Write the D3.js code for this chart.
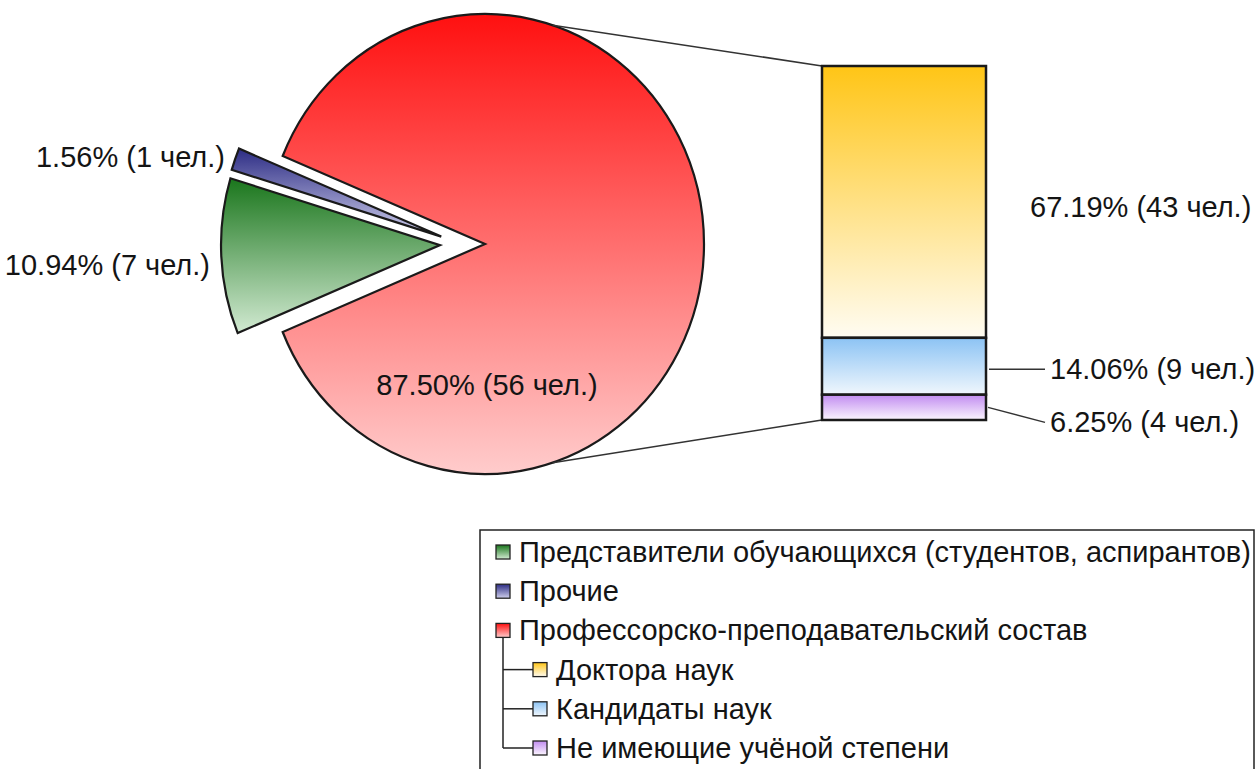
<!DOCTYPE html>
<html><head><meta charset="utf-8">
<script src="https://cdn.jsdelivr.net/npm/d3@7"></script>
<style>
body{margin:0;background:#fff;overflow:hidden}
text{font-family:"Liberation Sans",Arial,sans-serif;fill:#141414}
</style>
</head><body>
<svg id="c" width="1256" height="769"></svg>
<script>
// ---- data ----
const pieCategories = ["Профессорско-преподавательский состав", "Представители обучающихся (студентов, аспирантов)", "Прочие"];
const pieValues = [56, 7, 1];
const barCategories = ["Доктора наук", "Кандидаты наук", "Не имеющие учёной степени"];
const barValues = [43, 9, 4];
const unitLabel = "чел.";
const legendOrder = ["Представители обучающихся (студентов, аспирантов)", "Прочие", "Профессорско-преподавательский состав", "Доктора наук", "Кандидаты наук", "Не имеющие учёной степени"];

// ---- styles ----
const pieGrad = [["#ff1010", "#ffcccc"], ["#1a761c", "#d2ead2"], ["#2c2c84", "#cfcfec"]];
const barGrad = [["#ffc516", "#fffcf2"], ["#8cc3f4", "#f0f7fd"], ["#c18cf0", "#fbf5fe"]];

const svg = d3.select("#c");
const defs = svg.append("defs");
function grad(id, c, user, y1, y2) {
  const g = defs.append("linearGradient").attr("id", id)
    .attr("x1", 0).attr("x2", 0);
  if (user) g.attr("gradientUnits", "userSpaceOnUse").attr("y1", y1).attr("y2", y2);
  else g.attr("y1", 0).attr("y2", 1);
  g.append("stop").attr("offset", 0).attr("stop-color", c[0]);
  g.append("stop").attr("offset", 1).attr("stop-color", c[1]);
}
const fmt = d3.format(".2f");
const total = d3.sum(pieValues);
const lab = v => `${fmt(v / total * 100)}% (${v} ${unitLabel})`;

// ---- pie ----
const cx = 485, cy = 244, R = 230, sx = 219 / 230;
const a0 = -67.5 * Math.PI / 180;
const pie = d3.pie().sort(null).value(d => d).startAngle(a0).endAngle(a0 + 2 * Math.PI);
const arcs = pie(pieValues);
const arc = d3.arc().innerRadius(0).outerRadius(R);
grad("pg0", pieGrad[0], true, -R, R);
pieGrad.forEach((c, i) => grad("lg" + i, c, false));
barGrad.forEach((c, i) => grad("bg" + i, c, false));

function offset(d, i) {
  if (i === 0) return [0, 0];
  const m = (d.startAngle + d.endAngle) / 2, g = 1.5 * Math.PI;
  return [23 * Math.sin(g) + 22 * Math.sin(m), -23 * Math.cos(g) - 22 * Math.cos(m)];
}
svg.append("g").selectAll("path").data(arcs).join("path")
  .attr("transform", (d, i) => { const o = offset(d, i); return `translate(${cx + o[0]},${cy + o[1]}) scale(${sx},1)`; })
  .attr("d", arc)
  .attr("fill", (d, i) => i === 0 ? "url(#pg0)" : `url(#lg${i})`)
  .attr("stroke", "#1a1a1a").attr("stroke-width", 2.2)
  .attr("stroke-linejoin", "miter")
  .attr("vector-effect", "non-scaling-stroke");

// ---- bar ----
const bx0 = 822, bx1 = 986;
const y = d3.scaleLinear().domain([0, d3.sum(barValues)]).range([420, 66]);
const stackBottom = [];
let acc = 0;
for (let i = barValues.length - 1; i >= 0; i--) { stackBottom[i] = acc; acc += barValues[i]; }
const bars = barValues.map((v, i) => ({ v, i, y0: y(stackBottom[i] + v), y1: y(stackBottom[i]) }));

// connector lines
const tU = 18 * Math.PI / 180, tL = 162 * Math.PI / 180;
const pt = t => [cx + R * sx * Math.sin(t), cy - R * Math.cos(t)];
svg.append("line").attr("x1", pt(tU)[0]).attr("y1", pt(tU)[1]).attr("x2", bx0).attr("y2", y.range()[1])
  .attr("stroke", "#333").attr("stroke-width", 1.6);
svg.append("line").attr("x1", pt(tL)[0]).attr("y1", pt(tL)[1]).attr("x2", bx0).attr("y2", y.range()[0])
  .attr("stroke", "#333").attr("stroke-width", 1.6);

svg.append("g").selectAll("rect").data(bars).join("rect")
  .attr("x", bx0).attr("width", bx1 - bx0)
  .attr("y", d => d.y0).attr("height", d => d.y1 - d.y0)
  .attr("fill", d => `url(#bg${d.i})`)
  .attr("stroke", "#1a1a1a").attr("stroke-width", 2.5);

// ---- labels ----
const fs = 29;
function txt(x, yy, s, anchor) {
  return svg.append("text").attr("x", x).attr("y", yy).attr("dominant-baseline", "central")
    .attr("text-anchor", anchor).attr("font-size", fs).text(s);
}
txt(cx + 2, cy + 141, lab(pieValues[0]), "middle");
txt(210, cy + 21, lab(pieValues[1]), "end");
txt(225, cy - 87, lab(pieValues[2]), "end");

const barLab = v => `${fmt(v / total * 100)}% (${v} ${unitLabel})`;
txt(bx1 + 44, (bars[0].y0 + bars[0].y1) / 2 + 5, barLab(barValues[0]), "start");
const m1 = (bars[1].y0 + bars[1].y1) / 2 + 3;
svg.append("line").attr("x1", bx1 + 3).attr("y1", m1).attr("x2", bx1 + 59).attr("y2", m1).attr("stroke", "#333").attr("stroke-width", 1.4);
txt(bx1 + 64, m1, barLab(barValues[1]), "start");
const m2 = (bars[2].y0 + bars[2].y1) / 2;
svg.append("line").attr("x1", bx1 + 2).attr("y1", m2).attr("x2", bx1 + 59).attr("y2", m2 + 15).attr("stroke", "#333").attr("stroke-width", 1.4);
txt(bx1 + 64, m2 + 15, barLab(barValues[2]), "start");

// ---- legend ----
const lg = svg.append("g");
lg.append("rect").attr("x", 480).attr("y", 530).attr("width", 774).attr("height", 260)
  .attr("fill", "#fff").attr("stroke", "#222").attr("stroke-width", 1.5);
const rowY = i => 552 + i * 39.2;
const legendFill = [ "lg1", "lg2", "lg0", "bg0", "bg1", "bg2" ];
// tree lines
lg.append("line").attr("x1", 503).attr("x2", 503).attr("y1", rowY(2) + 7).attr("y2", rowY(5)).attr("stroke", "#222").attr("stroke-width", 1.5);
[3, 4, 5].forEach(i => lg.append("line").attr("x1", 503).attr("x2", 533).attr("y1", rowY(i)).attr("y2", rowY(i)).attr("stroke", "#222").attr("stroke-width", 1.5));
legendOrder.forEach((name, i) => {
  const sub = i >= 3;
  const x = sub ? 533 : 496;
  lg.append("rect").attr("x", x).attr("y", rowY(i) - 7).attr("width", 14).attr("height", 14)
    .attr("fill", `url(#${legendFill[i]})`).attr("stroke", "#222").attr("stroke-width", 1.3);
  lg.append("text").attr("x", x + 23).attr("y", rowY(i)).attr("dominant-baseline", "central")
    .attr("font-size", fs).text(name);
});
</script>
</body></html>
